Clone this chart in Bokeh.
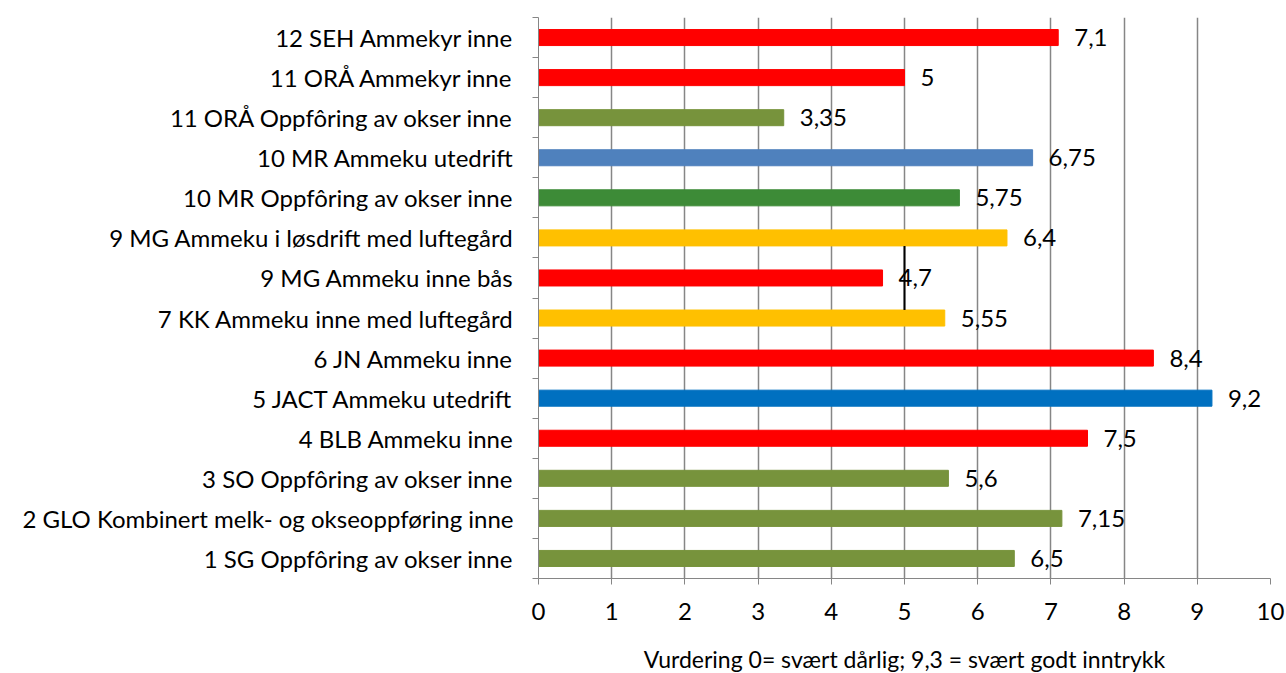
from bokeh.plotting import figure
from bokeh.models import FixedTicker, ColumnDataSource, Range1d
from bokeh.core.properties import value
from bokeh.embed import file_html
from bokeh.resources import INLINE

# Data (top-to-bottom as in the reference)
categories = [
    "12 SEH Ammekyr inne",
    "11 ORÅ Ammekyr inne",
    "11 ORÅ Oppfôring av okser inne",
    "10 MR Ammeku utedrift",
    "10 MR Oppfôring av okser inne",
    "9 MG Ammeku i løsdrift med luftegård",
    "9 MG Ammeku inne bås",
    "7 KK Ammeku inne med luftegård",
    "6 JN Ammeku inne",
    "5 JACT Ammeku utedrift",
    "4 BLB Ammeku inne",
    "3 SO Oppfôring av okser inne",
    "2 GLO Kombinert melk- og okseoppføring inne",
    "1 SG Oppfôring av okser inne",
]
values = [7.1, 5, 3.35, 6.75, 5.75, 6.4, 4.7, 5.55, 8.4, 9.2, 7.5, 5.6, 7.15, 6.5]
colors = ["#FF0000", "#FF0000", "#77933C", "#4F81BD", "#3D8B37", "#FFC000", "#FF0000",
          "#FFC000", "#FF0000", "#0070C0", "#FF0000", "#77933C", "#77933C", "#77933C"]
x_ticks = list(range(0, 11))
x_title = "Vurdering 0= svært dårlig; 9,3 = svært godt inntrykk"

FONT = "Lato"
FS = "24px"
n = len(categories)
ypos = [n - 1 - i for i in range(n)]
labels = [f"{v:g}".replace(".", ",") for v in values]

src = ColumnDataSource(dict(y=ypos, v=values, c=colors, t=labels))

p = figure(width=1286, height=684, output_backend="svg", toolbar_location=None,
           x_range=Range1d(0, 10), y_range=Range1d(-0.5, n - 0.5),
           min_border_left=538, min_border_right=16, min_border_top=17, min_border_bottom=106)
p.outline_line_color = None
p.background_fill_color = "white"

p.hbar(y="y", right="v", left=0, height=0.4, color="c", source=src)
p.text(x="v", y="y", text="t", source=src, x_offset=16, text_baseline="middle",
       text_align="left", text_font_size=FS, text_font=value(FONT), text_color="black")

# thin vertical mark near x=5
i_a = categories.index("9 MG Ammeku i løsdrift med luftegård")
i_b = categories.index("7 KK Ammeku inne med luftegård")
p.segment(x0=[5], x1=[5], y0=[ypos[i_a] - 0.2], y1=[ypos[i_b] + 0.2], line_color="black", line_width=2)

# x axis
p.xaxis.ticker = FixedTicker(ticks=x_ticks)
p.xaxis.axis_line_color = "#868686"
p.xaxis.major_tick_line_color = "#868686"
p.xaxis.major_tick_in = 0
p.xaxis.major_tick_out = 6
p.xaxis.minor_tick_line_color = None
p.xaxis.major_label_text_font = FONT
p.xaxis.major_label_text_font_size = FS
p.xaxis.major_label_text_color = "black"
p.xaxis.major_label_standoff = 18
p.xaxis.axis_label = x_title
p.xaxis.axis_label_text_font = FONT
p.xaxis.axis_label_text_font_size = "23px"
p.xaxis.axis_label_text_font_style = "normal"
p.xaxis.axis_label_text_color = "black"
p.xaxis.axis_label_standoff = 22

# y axis
p.yaxis.ticker = FixedTicker(ticks=ypos, minor_ticks=[k - 0.5 for k in range(n + 1)])
p.yaxis.major_label_overrides = {y: c for y, c in zip(ypos, categories)}
p.yaxis.axis_line_color = "#868686"
p.yaxis.major_tick_line_color = None
p.yaxis.major_tick_in = 0
p.yaxis.major_tick_out = 0
p.yaxis.minor_tick_line_color = "#868686"
p.yaxis.minor_tick_in = 0
p.yaxis.minor_tick_out = 6
p.yaxis.major_label_text_font = FONT
p.yaxis.major_label_text_font_size = FS
p.yaxis.major_label_text_color = "black"
p.yaxis.major_label_standoff = 19

# grid
p.xgrid.ticker = FixedTicker(ticks=x_ticks)
p.xgrid.grid_line_color = "#868686"
p.xgrid.grid_line_width = 1.5
p.ygrid.grid_line_color = None

open("out.html", "w").write(file_html(p, INLINE))
